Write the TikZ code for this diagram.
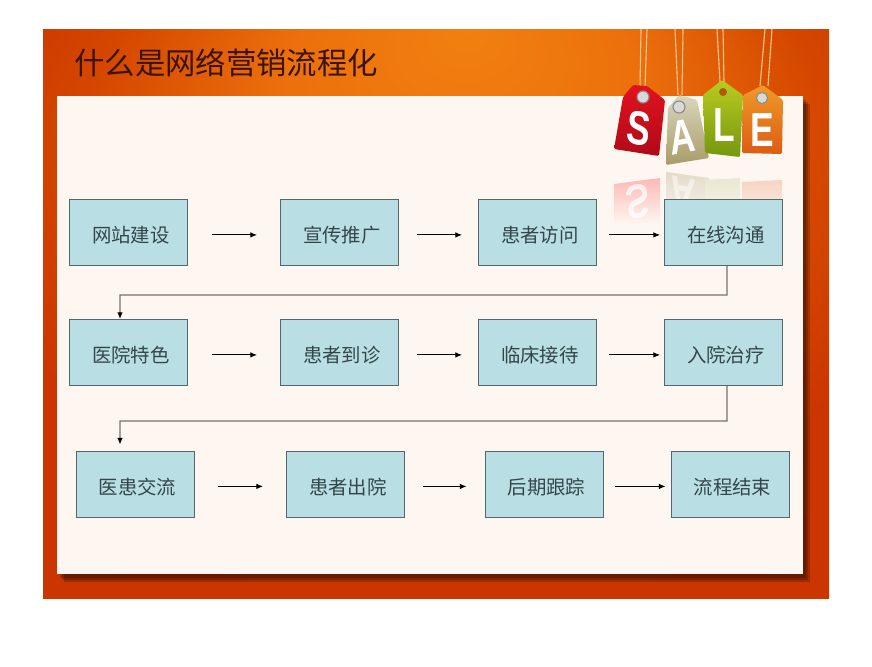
\documentclass[tikz,border=0pt]{standalone}
\usepackage{fontspec}
\setmainfont{Noto Sans CJK SC}
\newfontfamily\tagfont{Liberation Sans}
\usepackage{tikz}
\usetikzlibrary{arrows.meta}
\definecolor{panelcolor}{HTML}{FDF6F1}
\definecolor{boxcolor}{HTML}{B9DFE4}
\definecolor{boxline}{HTML}{56666A}
\definecolor{boxtext}{HTML}{34464A}
\definecolor{titletext}{HTML}{3A1408}
\definecolor{stringcolor}{HTML}{F8C48C}
\definecolor{glowa}{HTML}{F18010}
\definecolor{glowb}{HTML}{EC700C}
\definecolor{glowc}{HTML}{D54800}
\definecolor{glowd}{HTML}{CB3600}
\definecolor{glowe}{HTML}{C93300}
\definecolor{redtop}{HTML}{E2121E}
\definecolor{redbottom}{HTML}{B00A18}
\definecolor{khakitop}{HTML}{DAD6BE}
\definecolor{khakibottom}{HTML}{A89C68}
\definecolor{greentop}{HTML}{B8CC20}
\definecolor{greenbottom}{HTML}{76960E}
\definecolor{orangetop}{HTML}{F09A28}
\definecolor{orangebottom}{HTML}{DC5C14}
\pgfdeclareradialshading{bandglow}{\pgfpoint{2bp}{25bp}}{
  color(0bp)=(glowa);
  color(11bp)=(glowb);
  color(23bp)=(glowc);
  color(31bp)=(glowd);
  color(60bp)=(glowe)}
\tikzset{
  flowbox/.style={draw=boxline,fill=boxcolor,line width=0.6pt,minimum width=2.95cm,minimum height=1.65cm,inner sep=0pt,text height=0.6cm,text depth=0.1cm,text=boxtext,font=\fontsize{13.8pt}{16pt}\selectfont,execute at begin node=\hspace*{0.12cm}},
  flowarrow/.style={draw=black,line width=0.7pt,-{Latex[length=1.7mm,width=1.4mm]}},
  turnarrow/.style={draw=black!55,line width=0.9pt,-{Latex[length=1.7mm,width=1.4mm,black]}},
  tagletter/.style={text=white,inner sep=0pt,xscale=0.74,font=\tagfont\bfseries\fontsize{34pt}{34pt}\selectfont},
  tagstring/.style={draw=stringcolor,line width=0.8pt},
  taghole/.style={fill=white!85!black,draw=black!45,line width=0.8pt},
  panelshadow/.style={fill=black,opacity=0.2}
}
\begin{document}
\begin{tikzpicture}
\useasboundingbox (0cm,0cm) rectangle (21.8cm,-16.65cm);
\fill[white] (0cm,0cm) rectangle (21.8cm,-16.65cm);
\shade[shading=bandglow] (1.075cm,-0.725cm) rectangle (20.725cm,-14.95cm);
\fill[panelshadow] (1.6cm,-2.6cm) rectangle (20.25cm,-14.55cm);
\fill[panelshadow] (1.55cm,-2.55cm) rectangle (20.2cm,-14.5cm);
\fill[panelshadow] (1.5cm,-2.5cm) rectangle (20.15cm,-14.45cm);
\fill[panelcolor] (1.425cm,-2.4cm) rectangle (20.075cm,-14.35cm);
\node[anchor=west,inner sep=0pt,text=titletext,font=\fontsize{21.6pt}{26pt}\selectfont] (title) at (1.85cm,-1.575cm) {什么是网络营销流程化};

\shade[top color=red!25!panelcolor,bottom color=panelcolor] (15.35cm,-4.6cm) -- (16.5cm,-4.45cm) -- (16.5cm,-5.6cm) -- (15.35cm,-5.6cm) -- cycle;
\shade[top color=khakibottom!30!panelcolor,bottom color=panelcolor] (16.65cm,-4.3cm) -- (17.725cm,-4.45cm) -- (17.725cm,-5.6cm) -- (16.65cm,-5.6cm) -- cycle;
\shade[top color=greenbottom!15!panelcolor,bottom color=panelcolor] (17.625cm,-4.5cm) -- (18.5cm,-4.45cm) -- (18.5cm,-5.6cm) -- (17.625cm,-5.6cm) -- cycle;
\shade[top color=orangebottom!22!panelcolor,bottom color=panelcolor] (18.55cm,-4.55cm) -- (19.55cm,-4.5cm) -- (19.55cm,-5.6cm) -- (18.55cm,-5.6cm) -- cycle;
\node[tagletter,yscale=-1,rotate=-8,opacity=0.75] (srefl) at (15.95cm,-5.05cm) {S};
\node[tagletter,yscale=-1,rotate=8,opacity=0.5] (arefl) at (17.05cm,-4.85cm) {A};

\draw[tagstring] (16.025cm,-0.725cm) -- (16cm,-2.175cm);
\draw[tagstring] (16.175cm,-0.725cm) -- (16.125cm,-2.175cm);
\draw[tagstring] (16.875cm,-0.725cm) -- (16.95cm,-2.375cm);
\draw[tagstring] (17.075cm,-0.725cm) -- (17.05cm,-2.375cm);
\draw[tagstring] (17.925cm,-0.725cm) -- (18cm,-2.05cm);
\draw[tagstring] (18.075cm,-0.725cm) -- (18.1cm,-2.05cm);
\draw[tagstring] (19.125cm,-0.725cm) -- (19cm,-2.15cm);
\draw[tagstring] (19.3cm,-0.725cm) -- (19.2cm,-2.15cm);

\shade[top color=khakitop,bottom color=khakibottom,rounded corners=1pt] (16.7cm,-2.7cm) -- (16.975cm,-2.375cm) -- (17.425cm,-2.5cm) -- (17.725cm,-3.95cm) -- (16.65cm,-4.125cm) -- cycle;
\shade[top color=redtop,bottom color=redbottom,rounded corners=1pt] (15.575cm,-2.425cm) -- (15.825cm,-2.125cm) -- (16.175cm,-2.15cm) -- (16.625cm,-2.5cm) -- (16.475cm,-3.9cm) -- (15.35cm,-3.725cm) -- cycle;
\shade[top color=orangetop,bottom color=orangebottom,rounded corners=1pt] (18.575cm,-2.375cm) -- (19.075cm,-2.125cm) -- (19.575cm,-2.5cm) -- (19.55cm,-3.85cm) -- (18.55cm,-3.825cm) -- cycle;
\shade[top color=greentop,bottom color=greenbottom,rounded corners=1pt] (17.575cm,-2.375cm) -- (18.05cm,-2cm) -- (18.575cm,-2.375cm) -- (18.5cm,-3.925cm) -- (17.625cm,-3.825cm) -- cycle;

\fill[taghole] (16.075cm,-2.425cm) circle (0.15cm);
\fill[taghole] (16.975cm,-2.675cm) circle (0.15cm);
\fill[orange!70!black] (18.075cm,-2.3cm) circle (0.1cm);
\fill[taghole] (19.05cm,-2.45cm) circle (0.14cm);
\node[tagletter,rotate=-8] (s) at (15.98cm,-3.2cm) {S};
\node[tagletter,rotate=8] (a) at (17.07cm,-3.43cm) {A};
\node[tagletter] (l) at (18.1cm,-3.12cm) {L};
\node[tagletter] (e) at (19.05cm,-3.25cm) {E};

\node[flowbox] (1) at (3.2125cm,-5.8125cm) {网站建设};
\node[flowbox] (2) at (8.4875cm,-5.8125cm) {宣传推广};
\node[flowbox] (3) at (13.4375cm,-5.8125cm) {患者访问};
\node[flowbox] (4) at (18.0875cm,-5.8125cm) {在线沟通};
\node[flowbox] (5) at (3.2125cm,-8.8125cm) {医院特色};
\node[flowbox] (6) at (8.4875cm,-8.8125cm) {患者到诊};
\node[flowbox] (7) at (13.4375cm,-8.8125cm) {临床接待};
\node[flowbox] (8) at (18.0875cm,-8.8125cm) {入院治疗};
\node[flowbox] (9) at (3.375cm,-12.1cm) {医患交流};
\node[flowbox] (10) at (8.6375cm,-12.1cm) {患者出院};
\node[flowbox] (11) at (13.6cm,-12.1cm) {后期跟踪};
\node[flowbox] (12) at (18.25cm,-12.1cm) {流程结束};

\draw[flowarrow,shorten <=0.6cm,shorten >=0.575cm] ([yshift=-0.06cm]1.east) -- ([yshift=-0.06cm]2.west);
\draw[flowarrow,shorten <=0.45cm,shorten >=0.4cm] ([yshift=-0.06cm]2.east) -- ([yshift=-0.06cm]3.west);
\draw[flowarrow,shorten <=0.3cm,shorten >=0.1cm] ([yshift=-0.06cm]3.east) -- ([yshift=-0.06cm]4.west);
\draw[flowarrow,shorten <=0.6cm,shorten >=0.575cm] ([yshift=-0.06cm]5.east) -- ([yshift=-0.06cm]6.west);
\draw[flowarrow,shorten <=0.45cm,shorten >=0.4cm] ([yshift=-0.06cm]6.east) -- ([yshift=-0.06cm]7.west);
\draw[flowarrow,shorten <=0.3cm,shorten >=0.1cm] ([yshift=-0.06cm]7.east) -- ([yshift=-0.06cm]8.west);
\draw[flowarrow,shorten <=0.6cm,shorten >=0.575cm] ([yshift=-0.06cm]9.east) -- ([yshift=-0.06cm]10.west);
\draw[flowarrow,shorten <=0.45cm,shorten >=0.45cm] ([yshift=-0.06cm]10.east) -- ([yshift=-0.06cm]11.west);
\draw[flowarrow,shorten <=0.3cm,shorten >=0.125cm] ([yshift=-0.06cm]11.east) -- ([yshift=-0.06cm]12.west);

\coordinate (c1) at (18.175cm,-7.375cm);
\coordinate (c2) at (3cm,-7.375cm);
\coordinate (c3) at (18.175cm,-10.525cm);
\coordinate (c4) at (3cm,-10.525cm);
\draw[turnarrow] ([xshift=0.0875cm]4.south) -- (c1) -- (c2) -- ([xshift=-0.2125cm]5.north);
\draw[turnarrow,shorten >=0.15cm] ([xshift=0.0875cm]8.south) -- (c3) -- (c4) -- ([xshift=-0.375cm]9.north);
\end{tikzpicture}
\end{document}
